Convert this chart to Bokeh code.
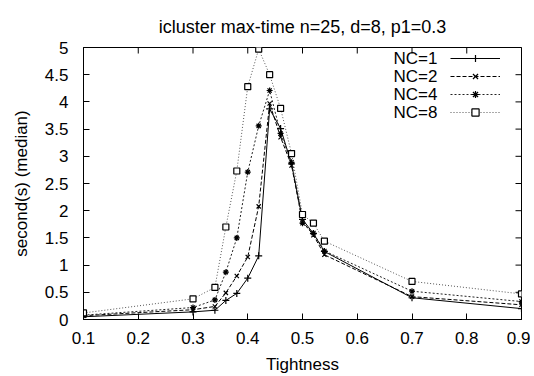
import math
from bokeh.plotting import figure
from bokeh.models import (Range1d, FixedTicker, Legend, LegendItem, Label)
from bokeh.embed import file_html
from bokeh.resources import INLINE

tightness = [0.1, 0.3, 0.34, 0.36, 0.38, 0.40, 0.42, 0.44, 0.46, 0.48, 0.50, 0.52, 0.54, 0.70, 0.90]
nc1 = [0.05, 0.14, 0.17, 0.35, 0.48, 0.76, 1.17, 3.87, 3.51, 2.86, 1.84, 1.58, 1.25, 0.40, 0.20]
nc2 = [0.07, 0.18, 0.24, 0.49, 0.80, 1.15, 2.08, 3.97, 3.35, 2.83, 1.80, 1.55, 1.19, 0.42, 0.27]
nc4 = [0.08, 0.22, 0.36, 0.87, 1.50, 2.71, 3.56, 4.21, 3.42, 2.89, 1.77, 1.59, 1.26, 0.52, 0.33]
nc8 = [0.12, 0.38, 0.59, 1.70, 2.73, 4.28, 4.97, 4.50, 3.88, 3.05, 1.93, 1.77, 1.44, 0.70, 0.47]

series_names = ["NC=1", "NC=2", "NC=4", "NC=8"]
x_ticks = [0.1, 0.2, 0.3, 0.4, 0.5, 0.6, 0.7, 0.8, 0.9]
x_tick_labels = ["0.1", "0.2", "0.3", "0.4", "0.5", "0.6", "0.7", "0.8", "0.9"]
y_ticks = [0, 0.5, 1, 1.5, 2, 2.5, 3, 3.5, 4, 4.5, 5]
y_tick_labels = ["0", "0.5", "1", "1.5", "2", "2.5", "3", "3.5", "4", "4.5", "5"]

FONT = "Liberation Sans"
FS = "17px"

p = figure(width=530, height=376, output_backend="svg", toolbar_location=None,
           x_range=Range1d(x_ticks[0], x_ticks[-1]), y_range=Range1d(y_ticks[0], y_ticks[-1]),
           min_border_left=83, min_border_right=9, min_border_top=47, min_border_bottom=55)
p.title.text = "icluster max-time n=25, d=8, p1=0.3"
p.title.align = "center"
p.title.text_font = FONT
p.title.text_font_size = "18px"
p.title.text_font_style = "normal"
p.title.text_color = "black"
p.title.standoff = 22
p.grid.visible = False
p.outline_line_color = "black"
p.outline_line_width = 1
p.background_fill_color = "white"
p.border_fill_color = "white"

def style_axis(ax, ticks, labels):
    ax.ticker = FixedTicker(ticks=ticks)
    ax.major_label_overrides = {t: l for t, l in zip(ticks, labels)}
    ax.major_tick_in = 6
    ax.major_tick_out = 0
    ax.minor_tick_in = 0
    ax.minor_tick_out = 0
    ax.axis_line_color = "black"
    ax.major_tick_line_color = "black"
    ax.major_label_text_font = FONT
    ax.major_label_text_font_size = FS
    ax.major_label_text_color = "black"
    ax.axis_label_text_font = FONT
    ax.axis_label_text_font_size = FS
    ax.axis_label_text_font_style = "normal"
    ax.axis_label_text_color = "black"

style_axis(p.xaxis[0], x_ticks, x_tick_labels)
style_axis(p.yaxis[0], y_ticks, y_tick_labels)
p.xaxis[0].axis_label = "Tightness"
p.yaxis[0].axis_label = "second(s) (median)"
p.xaxis[0].major_label_standoff = 12
p.yaxis[0].major_label_standoff = 15
p.xaxis[0].axis_label_standoff = 8
p.yaxis[0].axis_label_standoff = 11

# mirrored inward ticks on top and right edges (half of each dash is clipped by the frame)
p.scatter(x_ticks, [y_ticks[-1]] * len(x_ticks), marker="dash", size=12,
          angle=math.pi / 2, line_color="black", line_width=1)
p.scatter([x_ticks[-1]] * len(y_ticks), y_ticks, marker="dash", size=12,
          line_color="black", line_width=1)

styles = [
    dict(color="black", dash="solid", marker="cross", size=7, fill=None),
    dict(color="black", dash="4 2", marker="x", size=6, fill=None),
    dict(color="#222222", dash="2 2", marker="asterisk", size=6, fill=None),
    dict(color="#555555", dash="1 2", marker="square", size=6, fill="white"),
]
series = [nc1, nc2, nc4, nc8]

items = []
for name, vals, st in zip(series_names, series, styles):
    ln = p.line(tightness, vals, line_color=st["color"], line_dash=st["dash"], line_width=1)
    sc = p.scatter(tightness, vals, marker=st["marker"], size=st["size"],
                   line_color="black", line_width=1.2,
                   fill_color=st["fill"] if st["fill"] else None)
    items.append(LegendItem(label=" ", renderers=[ln, sc]))

legend = Legend(items=items, location=(367, 198), orientation="vertical",
                glyph_width=50, glyph_height=18, label_width=0, label_height=18,
                label_standoff=0, spacing=0, padding=0, margin=0,
                border_line_color=None, background_fill_alpha=0,
                label_text_font_size="17px")
p.add_layout(legend, "center")

row_y = [261, 243, 225, 207]
for name, yy in zip(series_names, row_y):
    p.add_layout(Label(x=354, y=yy, x_units="screen", y_units="screen", text=name,
                       text_align="right", text_baseline="middle",
                       text_font=FONT, text_font_size="17px", text_color="black"))

open("out.html", "w").write(file_html(p, INLINE))
